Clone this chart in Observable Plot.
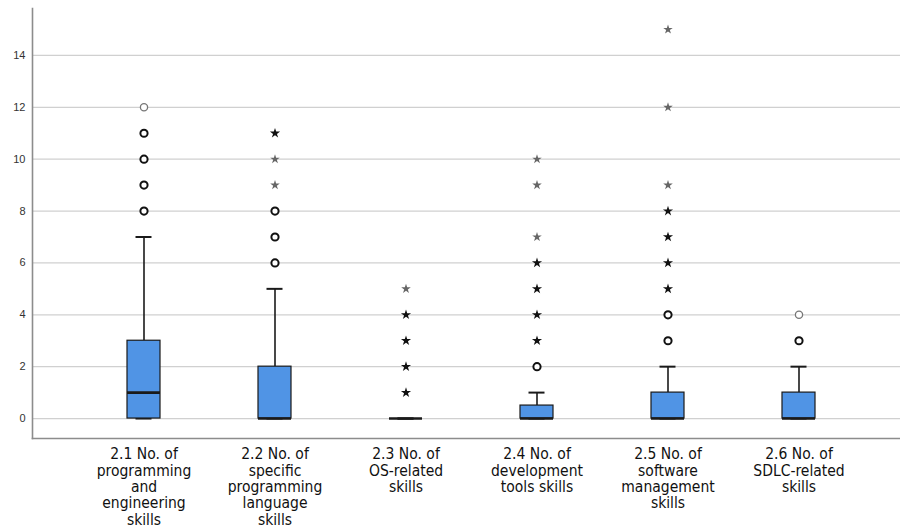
<!DOCTYPE html>
<html>
<head>
<meta charset="utf-8">
<script src="https://cdn.jsdelivr.net/npm/d3@7"></script>
<script src="https://cdn.jsdelivr.net/npm/@observablehq/plot@0.6"></script>
<style>
  html, body { margin: 0; padding: 0; background: #fff; }
  #chart svg { display: block; }
</style>
</head>
<body>
<div id="chart"></div>
<script>
// ---- data ----
const categories = ["2.1", "2.2", "2.3", "2.4", "2.5", "2.6"];
const labels = [
  "2.1 No. of\nprogramming\nand\nengineering\nskills",
  "2.2 No. of\nspecific\nprogramming\nlanguage\nskills",
  "2.3 No. of\nOS-related\nskills",
  "2.4 No. of\ndevelopment\ntools skills",
  "2.5 No. of\nsoftware\nmanagement\nskills",
  "2.6 No. of\nSDLC-related\nskills"
];
const q1 = [0, 0, 0, 0, 0, 0];
const median = [1, 0, 0, 0, 0, 0];
const q3 = [3, 2, 0, 0.5, 1, 1];
const whiskerLow = [0, 0, 0, 0, 0, 0];
const whiskerHigh = [7, 5, 0, 1, 2, 2];
// outliers (circles) and extreme values (stars); counts = overlapping cases
const outliers = [[8, 9, 10, 11, 12], [6, 7, 8], [], [2], [3, 4], [3, 4]];
const outlierCounts = [[3, 3, 3, 3, 1], [3, 3, 3], [], [3], [3, 3], [3, 1]];
const extremes = [[], [9, 10, 11], [1, 2, 3, 4, 5], [3, 4, 5, 6, 7, 9, 10], [5, 6, 7, 8, 9, 12, 15], []];
const extremeCounts = [[], [1, 1, 2], [3, 3, 3, 2, 1], [3, 3, 2, 3, 1, 1, 1], [3, 3, 3, 3, 1, 1, 1], []];
const yTicks = [0, 2, 4, 6, 8, 10, 12, 14];

// ---- tables ----
const boxes = categories.map((c, i) => ({
  cat: c, q1: q1[i], median: median[i], q3: q3[i], lo: whiskerLow[i], hi: whiskerHigh[i]
}));
const circleRows = categories.flatMap((c, i) => outliers[i].map((v, j) => ({cat: c, value: v, count: outlierCounts[i][j]})));
const starRows = categories.flatMap((c, i) => extremes[i].map((v, j) => ({cat: c, value: v, count: extremeCounts[i][j]})));
const labelOf = new Map(categories.map((c, i) => [c, labels[i]]));

const boxFill = "#5094e5";
const ink = "#1a1a1a";
const axisColor = "#8c8c8c";

const chart = Plot.plot({
  width: 900,
  height: 532,
  marginLeft: 32,
  marginRight: 0,
  marginTop: 8,
  marginBottom: 94,
  style: {fontFamily: "'Liberation Sans', 'DejaVu Sans', sans-serif", background: "#fff", color: "#333"},
  x: {domain: categories, paddingInner: 0.75, paddingOuter: 0.673, align: 0.528, label: null},
  y: {domain: [-0.77, 15.81], label: null},
  marks: [
    Plot.gridY(yTicks, {stroke: "#d0d0d0", strokeOpacity: 1, strokeWidth: 1.2}),
    Plot.frame({anchor: "left", stroke: axisColor, strokeWidth: 1.6}),
    Plot.frame({anchor: "bottom", stroke: axisColor, strokeWidth: 1.6}),
    Plot.axisY(yTicks, {tickSize: 0, tickPadding: 7, fontSize: 11, fill: "#333", label: null}),
    Plot.axisX({
      tickSize: 0, tickPadding: 9, fontSize: 15.5, lineHeight: 1.06,
      fontFamily: "'DejaVu Sans Condensed', 'Liberation Sans Narrow', 'Liberation Sans', sans-serif",
      fontStretch: "condensed",
      fill: "#111", tickFormat: d => labelOf.get(d), label: null
    }),
    // whiskers
    Plot.ruleX(boxes, {x: "cat", y1: "q3", y2: "hi", stroke: ink, strokeWidth: 1.6}),
    Plot.ruleX(boxes, {x: "cat", y1: "lo", y2: "q1", stroke: ink, strokeWidth: 1.6}),
    Plot.tickY(boxes, {x: "cat", y: "hi", stroke: ink, strokeWidth: 2, insetLeft: 8.5, insetRight: 8.5}),
    Plot.tickY(boxes, {x: "cat", y: "lo", stroke: ink, strokeWidth: 2, insetLeft: 8.5, insetRight: 8.5}),
    // boxes
    Plot.barY(boxes, {x: "cat", y1: "q1", y2: "q3", fill: boxFill, stroke: ink, strokeWidth: 1.2}),
    Plot.tickY(boxes, {x: "cat", y: "median", stroke: ink, strokeWidth: 2.6}),
    // outliers
    Plot.dot(circleRows, {
      x: "cat", y: "value", r: 3.6, fill: "#fff",
      stroke: d => d.count > 1 ? "#111" : "#777",
      strokeWidth: d => d.count > 1 ? 2 : 1.3
    }),
    Plot.dot(starRows, {
      x: "cat", y: "value", symbol: "star",
      r: d => d.count > 1 ? 2.5 : 2.2,
      fill: d => d.count > 1 ? "#111" : "#666", stroke: "none"
    })
  ]
});
document.getElementById("chart").appendChild(chart);
</script>
</body>
</html>
